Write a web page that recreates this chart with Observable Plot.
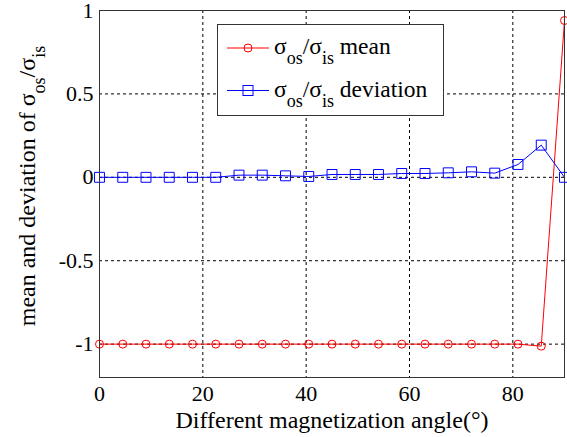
<!DOCTYPE html>
<html><head><meta charset="utf-8">
<script src="https://cdn.jsdelivr.net/npm/d3@7"></script>
<script src="https://cdn.jsdelivr.net/npm/@observablehq/plot@0.6"></script>
<style>body{margin:0;background:#fff} svg text{font-family:"Liberation Serif","Times New Roman","DejaVu Serif",serif;}</style>
</head><body><div id="chart"></div>
<script>
const angles = [0,4.5,9,13.5,18,22.5,27,31.5,36,40.5,45,49.5,54,58.5,63,67.5,72,76.5,81,85.5,90];
const meanValues = [-1,-1,-1,-1,-1,-1,-1,-1,-1,-1,-1,-1,-1,-1,-1,-1,-1,-1,-1,-1.012,0.94];
const deviationValues = [0,0,0,0,0,0,0.013,0.013,0.009,0.005,0.017,0.017,0.017,0.023,0.023,0.027,0.033,0.025,0.077,0.193,0];
const xTicks = [0,20,40,60,80];
const yTicks = [-1,-0.5,0,0.5,1];
const xGrid = [20,40,60,80];
const yGrid = [-1,-0.5,0,0.5];
const legendLabels = ["mean","deviation"];
const xTitle = "Different magnetization angle(°)";

const meanData = angles.map((a,i)=>({angle:a, value:meanValues[i]}));
const devData = angles.map((a,i)=>({angle:a, value:deviationValues[i]}));

const font = "Liberation Serif, Times New Roman, serif";
const plot = Plot.plot({
  width:567, height:437, marginLeft:99, marginRight:3, marginTop:10, marginBottom:60,
  style:{fontFamily:font, fontSize:"22px", background:"white", color:"black", overflow:"visible"},
  x:{domain:[0,90]},
  y:{domain:[-1.2,1]},
  marks:[
    Plot.gridX(xGrid, {stroke:"black", strokeOpacity:1, strokeDasharray:"3,3"}),
    Plot.gridY(yGrid, {stroke:"black", strokeOpacity:1, strokeDasharray:"3,3"}),
    Plot.line(meanData, {x:"angle", y:"value", stroke:"red", strokeWidth:1}),
    Plot.dot(meanData, {x:"angle", y:"value", stroke:"red", r:4, symbol:"circle", fill:"none", strokeWidth:1}),
    Plot.line(devData, {x:"angle", y:"value", stroke:"blue", strokeWidth:1}),
    Plot.dot(devData, {x:"angle", y:"value", stroke:"blue", r:5.6, symbol:"square", fill:"none", strokeWidth:1}),
    Plot.frame({stroke:"#333", strokeWidth:1}),
    Plot.axisX({ticks:xTicks, tickSize:0, tickPadding:8, fontSize:22, label:null}),
    Plot.axisY({ticks:yTicks, tickSize:0, tickPadding:6, fontSize:22, label:null, tickFormat:d=>String(d)})
  ]
});
document.getElementById("chart").appendChild(plot);

const svg = d3.select(plot);
// x title
svg.append("text").attr("x",332).attr("y",428).attr("text-anchor","middle")
  .attr("font-size",24).attr("fill","black").text(xTitle);

function sigmaText(sel, suffix){
  sel.append("tspan").text("σ");
  sel.append("tspan").attr("dy",10).attr("font-size",18).text("os");
  sel.append("tspan").attr("dy",-10).text("/σ");
  sel.append("tspan").attr("dy",10).attr("font-size",18).text("is");
  if (suffix) sel.append("tspan").attr("dy",-10).text(" " + suffix);
}
// y title
const yt = svg.append("text").attr("transform","translate(35,186) rotate(-90)")
  .attr("text-anchor","middle").attr("font-size",24).attr("fill","black");
yt.append("tspan").text("mean and deviation of ");
sigmaText(yt, null);

// legend
const lg = svg.append("g").attr("text-anchor","start");
lg.append("rect").attr("x",217.5).attr("y",24.5).attr("width",226).attr("height",91)
  .attr("fill","white").attr("stroke","#333");
const colors = ["red","blue"];
legendLabels.forEach((lab,i)=>{
  const yy = [48,90.5][i];
  lg.append("line").attr("x1",227).attr("x2",269).attr("y1",yy).attr("y2",yy).attr("stroke",colors[i]);
  if (i===0) lg.append("circle").attr("cx",248).attr("cy",yy).attr("r",4).attr("fill","none").attr("stroke","red");
  else lg.append("rect").attr("x",243).attr("y",yy-5).attr("width",10).attr("height",10).attr("fill","none").attr("stroke","blue");
  const t = lg.append("text").attr("x",274).attr("y",yy+6).attr("text-anchor","start").attr("font-size",23.5).attr("fill","black");
  sigmaText(t, lab);
});
</script>
</body></html>
